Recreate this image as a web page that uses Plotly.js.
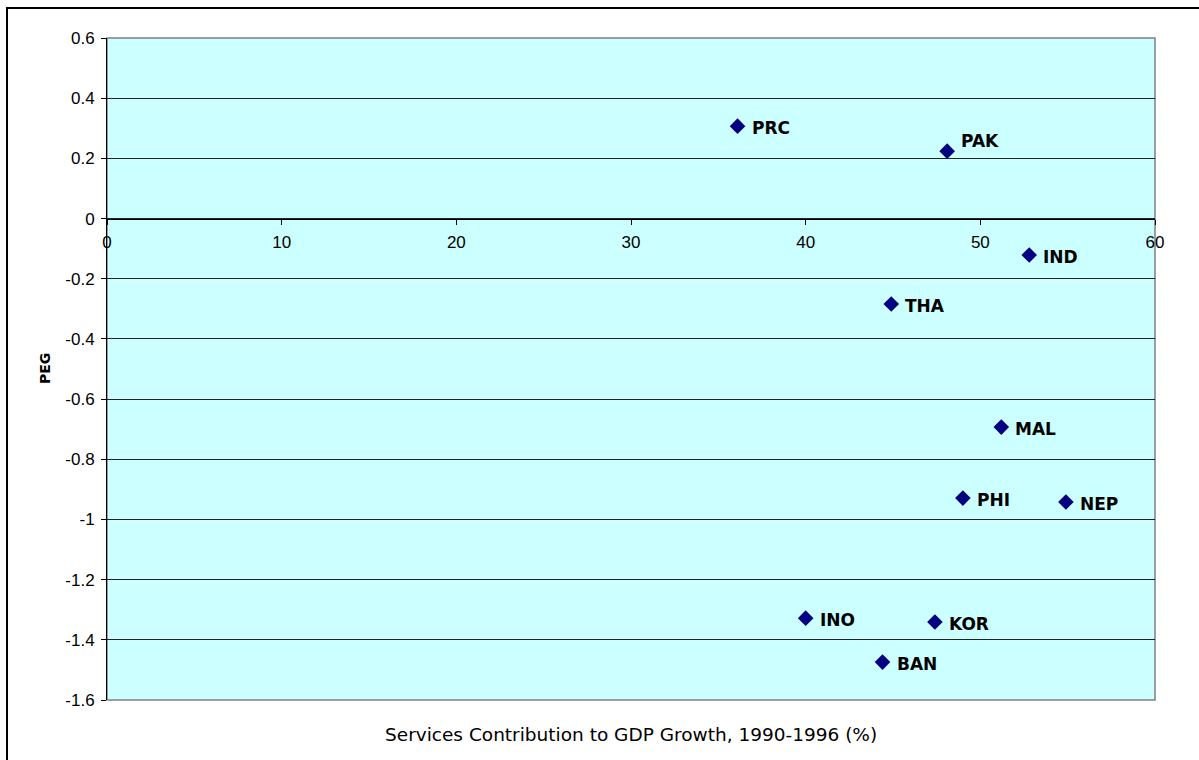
<!DOCTYPE html>
<html>
<head>
<meta charset="utf-8">
<script src="https://cdn.plot.ly/plotly-3.0.1.min.js"></script>
<style>
  html, body { margin: 0; padding: 0; background: #fff; overflow: hidden; }
  #chart { position: absolute; left: 0; top: 0; width: 1199px; height: 760px; }
  #frame { position: absolute; left: 6px; top: 7px; width: 1300px; height: 900px;
           border-left: 2px solid #000; border-top: 2px solid #000; pointer-events: none; }
</style>
</head>
<body>
<div id="chart"></div>
<div id="frame"></div>
<script>
const countries = ["PRC", "PAK", "IND", "THA", "MAL", "PHI", "NEP", "INO", "KOR", "BAN"];
const servicesContribution = [36.1, 48.1, 52.8, 44.9, 51.2, 49.0, 54.9, 40.0, 47.4, 44.4];
const peg = [0.307, 0.224, -0.121, -0.284, -0.693, -0.929, -0.942, -1.328, -1.341, -1.474];
const xTicks = [0, 10, 20, 30, 40, 50, 60];
const yTicks = [0.6, 0.4, 0.2, 0, -0.2, -0.4, -0.6, -0.8, -1, -1.2, -1.4, -1.6];
const yTickLabels = ["0.6", "0.4", "0.2", "0", "-0.2", "-0.4", "-0.6", "-0.8", "-1", "-1.2", "-1.4", "-1.6"];

const trace = {
  type: "scatter",
  mode: "markers",
  x: servicesContribution,
  y: peg,
  marker: { symbol: "diamond", size: 12, color: "#000080", line: { width: 0 } },
  cliponaxis: false,
  hoverinfo: "skip"
};

const labelAnnotations = countries.map((c, i) => ({
  text: "<b>" + c + "</b>",
  x: servicesContribution[i],
  y: peg[i],
  xref: "x", yref: "y",
  xanchor: "left", yanchor: "middle",
  xshift: 12,
  yshift: c === "PAK" ? 10 : -2,
  showarrow: false,
  font: { family: "DejaVu Sans", size: 17, color: "#000" }
}));

const yMin = -1.6, yMax = 0.6;
const tickFont = { family: "Liberation Sans", size: 17, color: "#000" };
const layout = {
  width: 1199,
  height: 760,
  margin: { l: 107, r: 44, t: 38, b: 60 },
  paper_bgcolor: "#ffffff",
  plot_bgcolor: "#ccffff",
  showlegend: false,
  font: { family: "Liberation Sans", size: 17, color: "#000" },
  xaxis: {
    range: [0, 60],
    tickvals: xTicks,
    ticktext: xTicks.map(String),
    anchor: "free",
    position: (0 - yMin) / (yMax - yMin),
    showgrid: false,
    zeroline: false,
    showline: true,
    linecolor: "#000",
    linewidth: 1,
    ticks: "outside",
    ticklen: 5,
    tickcolor: "#000",
    ticklabelstandoff: 3,
    tickfont: tickFont
  },
  yaxis: {
    range: [yMin, yMax],
    tickvals: yTicks,
    ticktext: yTickLabels,
    showgrid: true,
    gridcolor: "#222",
    gridwidth: 1,
    zeroline: false,
    showline: true,
    linecolor: "#000",
    linewidth: 1,
    ticks: "outside",
    ticklen: 5,
    tickcolor: "#000",
    ticklabelstandoff: 3,
    tickfont: tickFont
  },
  shapes: [
    { type: "rect", xref: "paper", yref: "paper", x0: 0, x1: 1, y0: 0, y1: 1,
      line: { color: "#808080", width: 1.5 }, fillcolor: "rgba(0,0,0,0)", layer: "below" }
  ],
  annotations: labelAnnotations.concat([
    { text: "Services Contribution to GDP Growth, 1990-1996 (%)", xref: "paper", yref: "paper",
      x: 0.5, y: 0, yshift: -34, xanchor: "center", yanchor: "middle", showarrow: false,
      font: { family: "DejaVu Sans", size: 18.5, color: "#000" } },
    { text: "<b>PEG</b>", xref: "paper", yref: "paper", x: 0, xshift: -62, y: 0.5,
      xanchor: "center", yanchor: "middle", textangle: -90, showarrow: false,
      font: { family: "DejaVu Sans", size: 14, color: "#000" } }
  ])
};

Plotly.newPlot("chart", [trace], layout, { displayModeBar: false, staticPlot: true });
</script>
</body>
</html>
